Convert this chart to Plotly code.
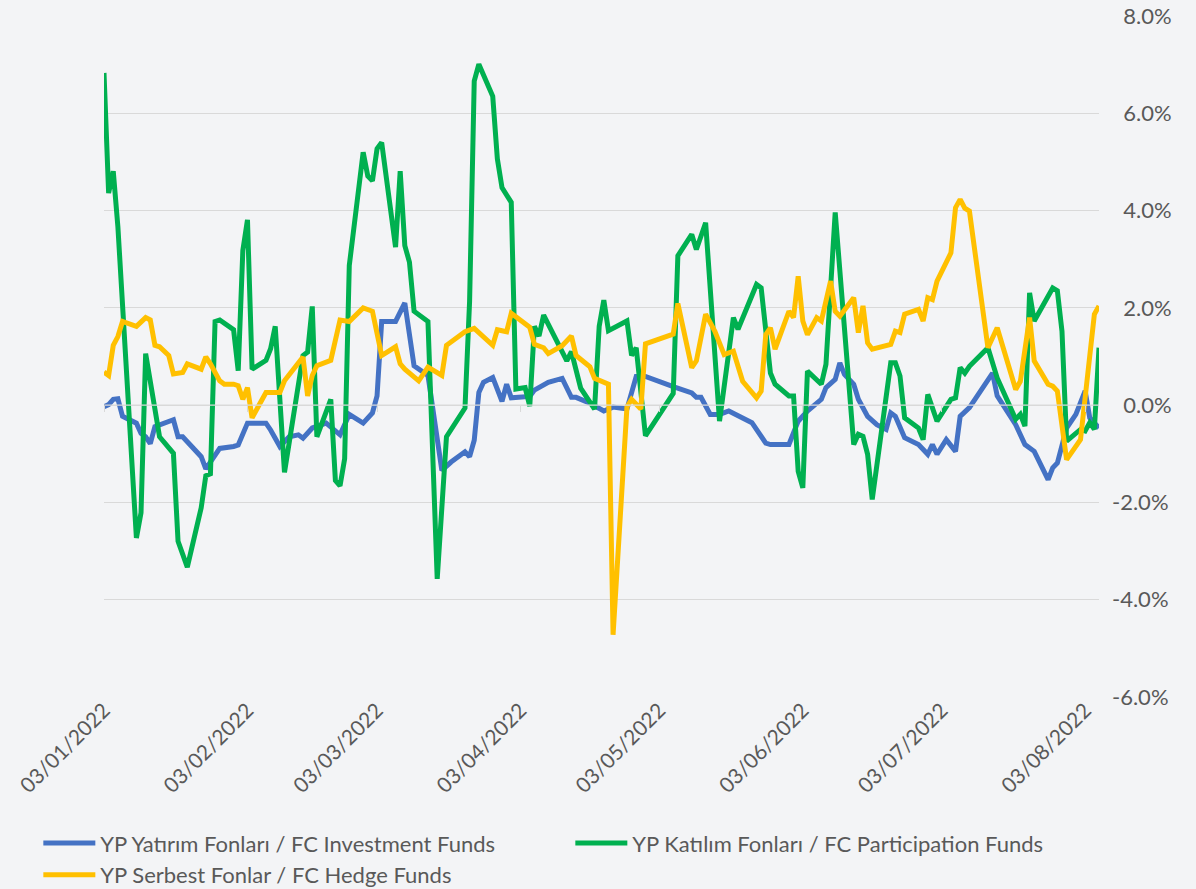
import pandas as pd
import plotly.graph_objects as go

# ---------------- data ----------------
start_date = "2022-01-03"   # first observation; days below are offsets from this date

inv_days = [0, 1, 2, 3, 4, 7, 8, 9, 10, 11, 15, 16, 17, 21, 22, 25, 28, 29, 31, 35, 36, 38, 40, 42, 43, 45,
            48, 51, 53, 56, 58, 59, 60, 63, 65, 67, 70, 73, 75, 78, 79, 80, 81, 82, 84, 86, 87, 88, 92, 93,
            96, 99, 101, 102, 105, 108, 110, 113, 115, 117, 123, 127, 128, 129, 131, 133, 135, 138, 140,
            143, 144, 148, 150, 152, 154, 155, 156, 158, 159, 160, 162, 163, 165, 167, 169, 170, 171, 173,
            176, 178, 179, 180, 182, 184, 185, 186, 187, 192, 193, 197, 199, 201, 204, 205, 206, 208, 210,
            212, 213, 215]
inv_vals = [-0.03, 0.01, 0.12, 0.13, -0.23, -0.37, -0.58, -0.65, -0.79, -0.44, -0.30, -0.65, -0.65, -1.06,
            -1.31, -0.89, -0.85, -0.82, -0.37, -0.37, -0.51, -0.85, -0.65, -0.61, -0.68, -0.47, -0.37, -0.61,
            -0.19, -0.37, -0.16, 0.19, 1.72, 1.72, 2.10, 0.81, 0.61, -1.34, -1.17, -0.96, -1.06, -0.72, 0.26,
            0.47, 0.57, 0.08, 0.43, 0.15, 0.18, 0.31, 0.47, 0.55, 0.16, 0.16, 0.04, -0.12, -0.04, -0.08, 0.59,
            0.59, 0.38, 0.25, 0.16, 0.16, -0.19, -0.19, -0.12, -0.26, -0.36, -0.78, -0.81, -0.81, -0.33,
            -0.12, 0.05, 0.12, 0.36, 0.53, 0.87, 0.63, 0.43, 0.12, -0.23, -0.40, -0.50, -0.16, -0.23, -0.67,
            -0.81, -1.01, -0.81, -1.01, -0.71, -0.95, -0.23, -0.15, -0.05, 0.66, 0.19, -0.40, -0.81, -0.95,
            -1.53, -1.29, -1.19, -0.47, -0.19, 0.29, -0.26, -0.47]

part_days = [0, 1, 2, 3, 7, 8, 9, 12, 15, 16, 18, 21, 22, 23, 24, 25, 28, 29, 30, 31, 32, 35, 36, 37, 39, 43,
             44, 45, 46, 49, 50, 51, 52, 53, 56, 57, 58, 59, 60, 63, 64, 65, 66, 67, 70, 72, 74, 78, 79, 80,
             81, 84, 85, 86, 88, 89, 91, 92, 93, 94, 95, 100, 101, 103, 106, 107, 108, 109, 113, 114, 115,
             117, 123, 124, 127, 128, 130, 131, 133, 136, 137, 141, 142, 144, 145, 148, 149, 150, 151, 152,
             155, 156, 158, 162, 163, 164, 165, 166, 170, 171, 172, 173, 176, 177, 178, 180, 183, 184, 185,
             186, 187, 191, 193, 197, 198, 199, 200, 201, 203, 205, 206, 207, 208, 211, 212, 213, 214, 215]
part_vals = [6.83, 4.36, 4.81, 3.67, -2.73, -2.21, 1.06, -0.65, -0.99, -2.80, -3.33, -2.11, -1.45, -1.41,
             1.72, 1.75, 1.55, 0.71, 3.18, 3.81, 0.74, 0.92, 1.16, 1.62, -1.38, 1.02, 1.09, 2.03, -0.65,
             0.12, -1.55, -1.66, -1.10, 2.87, 5.20, 4.71, 4.61, 5.27, 5.40, 3.25, 4.81, 3.28, 2.94, 1.93,
             1.72, -3.57, -0.65, -0.06, 2.14, 6.66, 7.01, 6.35, 5.06, 4.47, 4.17, 0.33, 0.36, -0.02, 1.62,
             1.42, 1.85, 0.91, 1.10, 0.35, -0.08, 1.62, 2.16, 1.53, 1.73, 1.02, 1.18, -0.63, 0.24, 3.07,
             3.51, 3.20, 3.75, 2.28, -0.33, 1.80, 1.56, 2.48, 2.41, 0.66, 0.43, 0.19, 0.19, -1.36, -1.70,
             0.70, 0.43, 0.84, 3.96, -0.81, -0.60, -0.64, -1.01, -1.94, 0.87, 0.87, 0.60, -0.26, -0.47,
             -0.71, 0.22, -0.33, 0.12, 0.15, 0.77, 0.66, 0.80, 1.18, 0.56, -0.29, -0.19, -0.43, 2.31, 1.73,
             2.07, 2.41, 2.35, 1.52, -0.74, -0.50, -0.53, -0.36, -0.50, 1.18]

hedge_days = [0, 1, 2, 3, 4, 7, 9, 10, 11, 12, 14, 15, 17, 18, 21, 22, 23, 25, 26, 28, 29, 30, 31, 32, 35,
              38, 39, 43, 44, 45, 46, 49, 51, 53, 56, 58, 60, 62, 63, 64, 65, 68, 70, 73, 74, 78, 80, 84,
              85, 87, 88, 92, 93, 95, 96, 99, 101, 102, 105, 106, 109, 110, 113, 114, 116, 117, 123, 124,
              127, 128, 129, 130, 132, 134, 136, 138, 141, 142, 143, 144, 145, 148, 149, 150, 151, 152,
              154, 155, 157, 158, 159, 162, 163, 164, 165, 166, 170, 171, 172, 173, 176, 177, 178, 179,
              180, 183, 184, 185, 186, 187, 191, 193, 197, 198, 200, 201, 204, 205, 206, 208, 211, 214, 215]
hedge_vals = [0.68, 0.61, 1.23, 1.41, 1.72, 1.62, 1.80, 1.75, 1.23, 1.20, 1.02, 0.64, 0.67, 0.85, 0.74,
              0.99, 0.85, 0.50, 0.43, 0.43, 0.40, 0.12, 0.36, -0.26, 0.26, 0.26, 0.50, 0.99, 0.19, 0.61,
              0.81, 0.92, 1.75, 1.72, 2.00, 1.93, 1.02, 1.13, 1.20, 0.85, 0.74, 0.50, 0.78, 0.61, 1.23,
              1.51, 1.58, 1.23, 1.55, 1.51, 1.89, 1.60, 1.25, 1.18, 1.06, 1.22, 1.42, 1.02, 0.79, 0.55,
              0.43, -4.72, -0.04, 0.12, -0.08, 1.26, 1.46, 2.09, 0.77, 0.91, 1.38, 1.87, 1.52, 1.04, 1.11,
              0.49, 0.15, 0.29, 1.45, 1.59, 1.15, 1.93, 1.80, 2.65, 1.73, 1.45, 1.80, 1.73, 2.55, 1.93,
              1.83, 2.21, 1.49, 2.04, 1.28, 1.15, 1.25, 1.52, 1.49, 1.87, 1.97, 1.73, 2.21, 2.17, 2.55,
              3.13, 4.06, 4.23, 4.05, 3.99, 1.18, 1.59, 0.32, 0.49, 1.80, 0.91, 0.43, 0.39, 0.29, -1.12,
              -0.71, 1.87, 2.04]

series_names = ["YP Yatırım Fonları / FC Investment Funds",
                "YP Katılım Fonları / FC Participation Funds",
                "YP Serbest Fonlar / FC Hedge Funds"]
series_colors = ["#4472C4", "#00B050", "#FFC000"]

x_tick_dates = ["2022-01-03", "2022-02-03", "2022-03-03", "2022-04-03",
                "2022-05-03", "2022-06-03", "2022-07-03", "2022-08-03"]
x_tick_labels = ["03/01/2022", "03/02/2022", "03/03/2022", "03/04/2022",
                 "03/05/2022", "03/06/2022", "03/07/2022", "03/08/2022"]
y_tick_vals = [-6, -4, -2, 0, 2, 4, 6, 8]
y_tick_labels = ["-6.0%", "-4.0%", "-2.0%", "0.0%", "2.0%", "4.0%", "6.0%", "8.0%"]
last_day = 215

# ---------------- figure ----------------
base = pd.Timestamp(start_date)


def to_dates(days):
    return [base + pd.Timedelta(days=d) for d in days]


x_range = [base, base + pd.Timedelta(days=last_day)]
FONT = "Lato, 'Open Sans', sans-serif"
TXT = "#595959"
GRID = "#d9d9d9"
BG = "#f3f4f6"

# right-align the y labels (labels without a minus sign get a small lead-in)
y_tick_text = [t if t.startswith("-") else "\u00a0\u00a0" + t for t in y_tick_labels]

fig = go.Figure()

# zero / category axis line (carries the small month ticks)
fig.add_trace(go.Scatter(x=x_range, y=[0, 0], xaxis="x2", yaxis="y", mode="lines",
                         line=dict(color=GRID, width=1.3), hoverinfo="skip", showlegend=False))

for name, days, vals, color in zip(series_names,
                                   [inv_days, part_days, hedge_days],
                                   [inv_vals, part_vals, hedge_vals],
                                   series_colors):
    fig.add_trace(go.Scatter(x=to_dates(days), y=vals, mode="lines", name=name,
                             line=dict(color=color, width=5)))

fig.update_layout(
    width=1196, height=889,
    margin=dict(l=104, r=97, t=16, b=192, autoexpand=False),
    paper_bgcolor=BG,
    plot_bgcolor="rgba(0,0,0,0)",
    font=dict(family=FONT, color=TXT, size=21),
    xaxis=dict(type="date", range=x_range, tickvals=x_tick_dates, ticktext=x_tick_labels,
               tickangle=-45, showgrid=False, zeroline=False, showline=False, ticks="",
               automargin=False, ticklabelstandoff=-4,
               tickfont=dict(size=21, color=TXT, family=FONT)),
    xaxis2=dict(type="date", range=x_range, overlaying="x", anchor="free", position=6 / 14,
                tickvals=x_tick_dates, showticklabels=False, ticks="outside", ticklen=6,
                tickcolor=GRID, tickwidth=1.3, showgrid=False, zeroline=False, showline=False,
                automargin=False),
    yaxis=dict(side="right", range=[-6, 8], tickvals=y_tick_vals, ticktext=y_tick_text,
               showgrid=True, gridcolor=GRID, gridwidth=1.3, zeroline=False, showline=False,
               ticks="", ticklabelstandoff=12, automargin=False,
               tickfont=dict(size=22, color=TXT, family=FONT)),
    legend=dict(orientation="h", xref="paper", yref="paper", x=-0.066, y=-0.184,
                xanchor="left", yanchor="top", entrywidth=465, entrywidthmode="pixels",
                font=dict(size=22, color=TXT, family=FONT), bgcolor="rgba(0,0,0,0)",
                traceorder="normal", itemwidth=52, tracegroupgap=0),
    hovermode=False,
)

fig.write_html("out.html", config={"displayModeBar": False},
               post_script=f"document.body.style.margin='0';document.body.style.background='{BG}';")
